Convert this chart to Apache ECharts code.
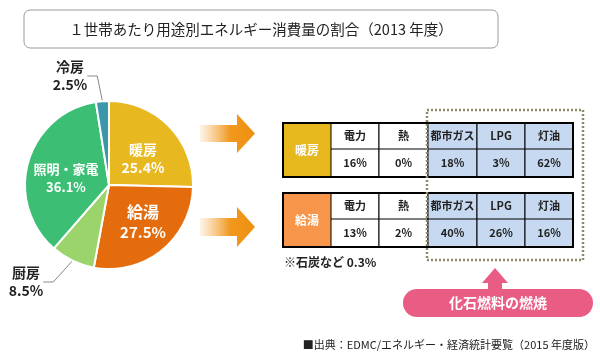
<!DOCTYPE html>
<html><head><meta charset="utf-8">
<script src="https://cdn.jsdelivr.net/npm/echarts@6/dist/echarts.min.js"></script>
<style>html,body{margin:0;padding:0;background:#fff}#c{width:600px;height:360px}</style>
</head><body><div id="c"></div>
<script>
const titleText = '１世帯あたり用途別エネルギー消費量の割合（2013 年度）';
const pieCategories = ['暖房', '給湯', '厨房', '照明・家電', '冷房'];
const pieValues = [25.4, 27.5, 8.5, 36.1, 2.5];
const fuelTypes = ['電力', '熱', '都市ガス', 'LPG', '灯油'];
const heatingShares = [16, 0, 18, 3, 62];
const hotWaterShares = [13, 2, 40, 26, 16];
const tableRowNames = ['暖房', '給湯'];
const footnoteText = '※石炭など 0.3%';
const fossilLabel = '化石燃料の燃焼';
const sourceText = '■出典：EDMC/エネルギー・経済統計要覧（2015 年度版）';

const FONT = '"Noto Sans CJK JP", "Noto Sans", sans-serif';
const sliceColors = ['#E8B820', '#E46C0C', '#9BD46A', '#3CBF74', '#3B98AA'];
const labelCellColors = ['#E6B81E', '#F7964A'];
const fossilCellColor = '#C6D9F0';

// label layout for pie (positions of texts)
const labelSpots = [
  {x: 143, y: 159, align: 'center'},
  {x: 143, y: 222, align: 'center'},
  {x: 26, y: 282, align: 'center'},
  {x: 66, y: 178, align: 'center'},
  {x: 70, y: 76, align: 'center'}
];
const insideIdx = [0, 1, 3];

const chart = echarts.init(document.getElementById('c'), null, {renderer: 'canvas'});

const pieData = pieCategories.map((n, i) => {
  const inside = insideIdx.indexOf(i) >= 0;
  const big = i === 1;
  return {
    name: n, value: pieValues[i],
    itemStyle: {color: sliceColors[i]},
    label: {
      position: inside ? 'inside' : 'outside',
      formatter: '{n|' + n + '}\n{v|' + pieValues[i].toFixed(1) + '%}',
      rich: {
        n: {fontFamily: FONT, fontWeight: 'bold', fontSize: big ? 16 : (i === 3 ? 13 : 14), color: inside ? '#fff' : '#222', lineHeight: big ? 20 : 18},
        v: {fontFamily: FONT, fontWeight: 'bold', fontSize: big ? 15 : (i === 3 ? 13 : 14), color: inside ? '#fff' : '#222', lineHeight: big ? 20 : 18}
      }
    },
    labelLine: {show: !inside, length: 10, length2: 10, lineStyle: {color: '#888', width: 1}}
  };
});

// table graphics
const colEdges = [283, 331, 379, 428, 477, 525, 573];
const tableTops = [123, 193];
const rowH = [26, 28];
const tableValues = [heatingShares, hotWaterShares];
const els = [];

// title box
els.push({type: 'rect', shape: {x: 24, y: 10, width: 474, height: 38, r: 6}, style: {fill: '#fff', stroke: '#9a9a9a', lineWidth: 1}});
els.push({type: 'text', x: 261, y: 29, style: {text: titleText, font: 'normal 14.5px ' + FONT, fill: '#222', align: 'center', verticalAlign: 'middle'}});

// orange arrows
function orangeArrow(cy, hh, sh) {
  return {type: 'polygon', shape: {points: [[200, cy - sh], [237, cy - sh], [237, cy - hh], [255, cy], [237, cy + hh], [237, cy + sh], [200, cy + sh]]},
    style: {fill: new echarts.graphic.LinearGradient(0, 0, 1, 0, [
      {offset: 0, color: 'rgba(246,170,70,0.12)'}, {offset: 0.55, color: '#F0981E'}, {offset: 1, color: '#EE9010'}])}};
}
els.push(orangeArrow(133.5, 19.5, 8.5));
els.push(orangeArrow(227, 20, 9));

tableTops.forEach((top, t) => {
  const h = rowH[0] + rowH[1];
  // label cell
  els.push({type: 'rect', shape: {x: colEdges[0], y: top, width: colEdges[1] - colEdges[0], height: h}, style: {fill: labelCellColors[t]}});
  els.push({type: 'text', x: (colEdges[0] + colEdges[1]) / 2, y: top + h / 2, style: {text: tableRowNames[t], font: 'bold 12px ' + FONT, fill: '#fff', align: 'center', verticalAlign: 'middle'}});
  fuelTypes.forEach((f, j) => {
    const x0 = colEdges[j + 1], x1 = colEdges[j + 2];
    const fill = j >= 2 ? fossilCellColor : '#fff';
    els.push({type: 'rect', shape: {x: x0, y: top, width: x1 - x0, height: h}, style: {fill: fill, stroke: '#000', lineWidth: 1}});
    els.push({type: 'text', x: (x0 + x1) / 2, y: top + rowH[0] / 2, style: {text: f, font: 'bold 11px ' + FONT, fill: '#222', align: 'center', verticalAlign: 'middle'}});
    els.push({type: 'text', x: (x0 + x1) / 2, y: top + rowH[0] + rowH[1] / 2, style: {text: tableValues[t][j] + '%', font: 'bold 11px ' + FONT, fill: '#222', align: 'center', verticalAlign: 'middle'}});
  });
  els.push({type: 'line', shape: {x1: colEdges[1], y1: top + rowH[0], x2: colEdges[6], y2: top + rowH[0]}, style: {stroke: '#000', lineWidth: 1}});
  els.push({type: 'rect', shape: {x: colEdges[0], y: top, width: colEdges[6] - colEdges[0], height: h}, style: {fill: 'none', stroke: '#000', lineWidth: 2}});
});

els.push({type: 'text', x: 284, y: 262, style: {text: footnoteText, font: 'bold 12px ' + FONT, fill: '#222', align: 'left', verticalAlign: 'middle'}});

// dotted box
els.push({type: 'rect', shape: {x: 427, y: 110, width: 156, height: 150}, style: {fill: 'none', stroke: '#8E8A66', lineWidth: 2.5, lineDash: [2, 2]}});

// pink arrow + pill
const pink = '#E95C84';
els.push({type: 'polygon', shape: {points: [[495, 268], [508, 283], [502, 283], [502, 291], [488, 291], [488, 283], [482, 283]]}, style: {fill: pink}});
els.push({type: 'rect', shape: {x: 403, y: 289, width: 190, height: 28, r: 14}, style: {fill: pink}});
els.push({type: 'text', x: 498, y: 303, style: {text: fossilLabel, font: 'bold 14px ' + FONT, fill: '#fff', align: 'center', verticalAlign: 'middle'}});

els.push({type: 'text', x: 595, y: 345, style: {text: sourceText, font: 'normal 11px ' + FONT, fill: '#222', align: 'right', verticalAlign: 'middle'}});

chart.setOption({
  animation: false,
  backgroundColor: '#fff',
  series: [{
    type: 'pie',
    center: [109, 185],
    radius: 84,
    startAngle: 90,
    clockwise: true,
    avoidLabelOverlap: false,
    itemStyle: {borderColor: '#fff', borderWidth: 2},
    data: pieData,
    labelLayout: function (p) {
      const s = labelSpots[p.dataIndex];
      return {x: s.x, y: s.y, align: s.align, verticalAlign: 'middle'};
    }
  }],
  graphic: {elements: els}
});
</script></body></html>
